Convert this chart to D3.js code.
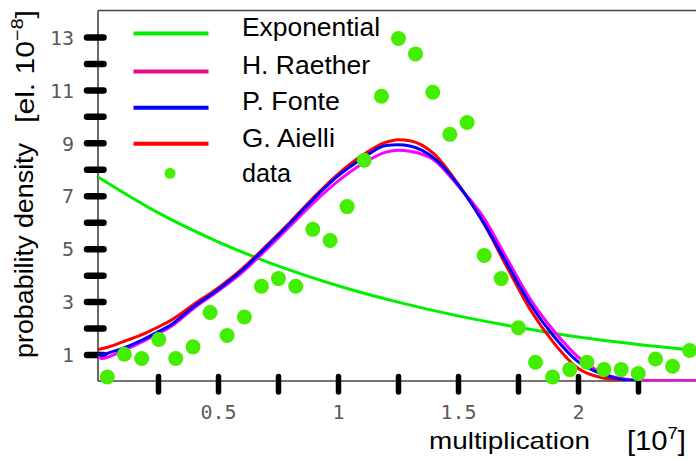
<!DOCTYPE html>
<html>
<head>
<meta charset="utf-8">
<script src="https://cdn.jsdelivr.net/npm/d3@7"></script>
<style>
  html, body { margin: 0; padding: 0; background: #fff; }
  svg { display: block; }
</style>
</head>
<body>
<svg id="chart" width="696" height="459"></svg>
<script>
// Multiplication distribution: measured histogram and model curves (units: 10^7 / el. 10^-8)

const expX = [0, 0.25, 0.5, 0.75, 1.0, 1.25, 1.5, 1.75, 2.0, 2.25, 2.5];
const expY = [7.71, 6.36, 5.26, 4.35, 3.6, 2.98, 2.46, 2.03, 1.66, 1.38, 1.15];

const modelX = [0, 0.015, 0.05, 0.1, 0.2, 0.25, 0.3, 0.4, 0.5, 0.6, 0.7, 0.8, 0.9, 1.0, 1.1, 1.2, 1.25, 1.3, 1.4, 1.5, 1.6, 1.7, 1.8, 1.9, 2.0, 2.1, 2.2, 2.25, 2.3, 2.4, 2.5];
const raetherY = [0.95, 0.85, 0.93, 1.12, 1.55, 1.79, 2.03, 2.75, 3.4, 4.1, 4.95, 5.85, 6.75, 7.55, 8.2, 8.65, 8.72, 8.68, 8.35, 7.38, 6.27, 4.69, 3.11, 1.89, 0.91, 0.31, 0.07, 0.04, 0.02, 0.02, 0.02];
const fonteY = [1.0, 0.98, 1.08, 1.22, 1.62, 1.86, 2.1, 2.82, 3.45, 4.18, 5.05, 5.95, 6.9, 7.75, 8.4, 8.9, 8.93, 8.88, 8.42, 7.42, 6.08, 4.5, 2.92, 1.68, 0.73, 0.26, 0.04, 0.0, null, null, null];
const aielliY = [1.19, 1.22, 1.3, 1.47, 1.82, 2.04, 2.27, 2.9, 3.52, 4.24, 5.1, 6.0, 6.95, 7.82, 8.52, 9.02, 9.12, 9.08, 8.58, 7.45, 6.07, 4.37, 2.71, 1.43, 0.48, 0.12, 0.02, 0.0, null, null, null];

const dataX = [0.039, 0.110, 0.182, 0.253, 0.324, 0.396, 0.467, 0.538, 0.610, 0.681, 0.752, 0.824, 0.895, 0.967, 1.038, 1.109, 1.181, 1.252, 1.323, 1.395, 1.466, 1.538, 1.609, 1.680, 1.752, 1.823, 1.894, 1.966, 2.037, 2.108, 2.180, 2.251, 2.323, 2.394, 2.465];
const dataY = [0.15, 1.01, 0.85, 1.57, 0.85, 1.29, 2.59, 1.72, 2.42, 3.58, 3.87, 3.58, 5.73, 5.31, 6.59, 8.34, 10.76, 12.94, 12.36, 10.91, 9.32, 9.77, 4.74, 3.87, 2.01, 0.71, 0.15, 0.43, 0.71, 0.43, 0.43, 0.28, 0.83, 0.56, 1.15];

const xTicks = [0.25, 0.5, 0.75, 1, 1.25, 1.5, 1.75, 2, 2.25];
const xTickLabels = ["0.5", "1", "1.5", "2"];
const yTicks = [1, 2, 3, 4, 5, 6, 7, 8, 9, 10, 11, 12, 13];
const yTickLabels = ["1", "3", "5", "7", "9", "11", "13"];

const seriesNames = ["Exponential", "H. Raether", "P. Fonte", "G. Aielli", "data"];
const seriesColors = ["#00f000", "#ff00ff", "#0000ff", "#ff0000", "#44ee00"];
const legendColors = ["#00f000", "#e8088a", "#0000ff", "#ff0000", "#44ee00"];

const svg = d3.select("#chart");
const plotLeft = 98, plotRight = 698, plotTop = 10.5, plotBottom = 381;

const x = d3.scaleLinear().domain([0, 2.5]).range([plotLeft, plotRight]);
const y = d3.scaleLinear().domain([0, 14]).range([plotBottom, plotTop]);

svg.append("defs").append("clipPath").attr("id", "plotclip")
  .append("rect").attr("x", plotLeft).attr("y", plotTop)
  .attr("width", plotRight - plotLeft).attr("height", plotBottom - plotTop);

// frame: left axis, bottom axis, top border
const frame = svg.append("g").attr("stroke", "#444").attr("stroke-width", 1.6).attr("fill", "none");
frame.append("line").attr("x1", plotLeft).attr("x2", plotLeft).attr("y1", plotTop).attr("y2", plotBottom);
frame.append("line").attr("x1", plotLeft).attr("x2", 696).attr("y1", plotBottom).attr("y2", plotBottom);
frame.append("line").attr("x1", plotLeft).attr("x2", 696).attr("y1", plotTop).attr("y2", plotTop);

// y axis: thick dash ticks
const yAxis = d3.axisLeft(y).tickValues(yTicks).tickSize(0)
  .tickFormat(d => yTickLabels.includes(String(d)) ? String(d) : "");
const gy = svg.append("g").attr("transform", `translate(${plotLeft},0)`).call(yAxis);
gy.select(".domain").remove();
gy.selectAll(".tick").append("line")
  .attr("x1", -11).attr("x2", 5.5).attr("y1", 0).attr("y2", 0)
  .attr("stroke", "#000").attr("stroke-width", 6.5).attr("stroke-linecap", "round");
gy.selectAll(".tick text")
  .attr("x", -24).attr("dy", "0.36em")
  .attr("font-family", "DejaVu Sans Mono").attr("font-size", 20).attr("fill", "#5a5a5a");

// x axis: thick dash ticks
const xAxis = d3.axisBottom(x).tickValues(xTicks).tickSize(0)
  .tickFormat(d => xTickLabels.includes(String(d)) ? String(d) : "");
const gx = svg.append("g").attr("transform", `translate(0,${plotBottom})`).call(xAxis);
gx.select(".domain").remove();
gx.selectAll(".tick").append("line")
  .attr("x1", 0).attr("x2", 0).attr("y1", -4.5).attr("y2", 11)
  .attr("stroke", "#000").attr("stroke-width", 5.5).attr("stroke-linecap", "round");
gx.selectAll(".tick text")
  .attr("y", 24).attr("dy", "0.71em")
  .attr("font-family", "DejaVu Sans Mono").attr("font-size", 20).attr("fill", "#5a5a5a");

// curves
const plot = svg.append("g").attr("clip-path", "url(#plotclip)");
const line = d3.line()
  .defined(d => d[1] !== null)
  .x(d => x(d[0])).y(d => y(d[1]))
  .curve(d3.curveMonotoneX);

const curves = [
  { xs: expX, ys: expY, color: seriesColors[0] },
  { xs: modelX, ys: raetherY, color: seriesColors[1] },
  { xs: modelX, ys: aielliY, color: seriesColors[3] },
  { xs: modelX, ys: fonteY, color: seriesColors[2] }
];
curves.forEach(c => {
  plot.append("path")
    .datum(c.xs.map((v, i) => [v, c.ys[i]]))
    .attr("d", line)
    .attr("fill", "none")
    .attr("stroke", c.color)
    .attr("stroke-width", 3)
    .attr("stroke-linejoin", "round");
});

// measured points
svg.append("g").selectAll("circle")
  .data(dataX.map((v, i) => [v, dataY[i]]))
  .join("circle")
  .attr("cx", d => x(d[0])).attr("cy", d => y(d[1]))
  .attr("r", 7.5).attr("fill", seriesColors[4]);

// legend
const legendY = [33.5, 71.5, 107.7, 143.8, 173.3];
const legendBase = [36, 73.5, 110, 146.5, 181.5];
const legendLen = [138, 128, 98, 93, 49];
const lg = svg.append("g");
seriesNames.forEach((name, i) => {
  if (i < 4) {
    lg.append("line")
      .attr("x1", 133.5).attr("x2", 208.5).attr("y1", legendY[i]).attr("y2", legendY[i])
      .attr("stroke", legendColors[i]).attr("stroke-width", 4);
  } else {
    lg.append("circle").attr("cx", 170).attr("cy", legendY[i]).attr("r", 5.5).attr("fill", legendColors[i]);
  }
  lg.append("text")
    .attr("x", 242).attr("y", legendBase[i])
    .attr("font-family", "Liberation Sans").attr("font-size", 25).attr("fill", "#000")
    .attr("textLength", legendLen[i]).attr("lengthAdjust", "spacingAndGlyphs")
    .text(name);
});

// axis titles
svg.append("text")
  .attr("x", 429).attr("y", 449)
  .attr("font-family", "Liberation Sans").attr("font-size", 24).attr("fill", "#000")
  .attr("textLength", 161).attr("lengthAdjust", "spacingAndGlyphs")
  .text("multiplication");
const xu = svg.append("text")
  .attr("x", 627).attr("y", 450)
  .attr("font-family", "Liberation Sans").attr("font-size", 27).attr("fill", "#000")
  .attr("textLength", 59).attr("lengthAdjust", "spacingAndGlyphs");
xu.append("tspan").text("[10");
xu.append("tspan").attr("dy", -11).attr("font-size", 17).text("7");
xu.append("tspan").attr("dy", 11).text("]");

const yt = svg.append("g").attr("transform", "translate(33,358) rotate(-90)");
yt.append("text")
  .attr("x", 0).attr("y", 0)
  .attr("font-family", "Liberation Sans").attr("font-size", 25).attr("fill", "#000")
  .attr("textLength", 215).attr("lengthAdjust", "spacingAndGlyphs")
  .text("probability density");
const yu = yt.append("text")
  .attr("x", 235).attr("y", 1)
  .attr("font-family", "Liberation Sans").attr("font-size", 26).attr("fill", "#000")
  .attr("textLength", 113).attr("lengthAdjust", "spacingAndGlyphs");
yu.append("tspan").text("[el. 10");
yu.append("tspan").attr("dy", -11).attr("font-size", 17).text("\u22128");
yu.append("tspan").attr("dy", 11).text("]");
</script>
</body>
</html>
